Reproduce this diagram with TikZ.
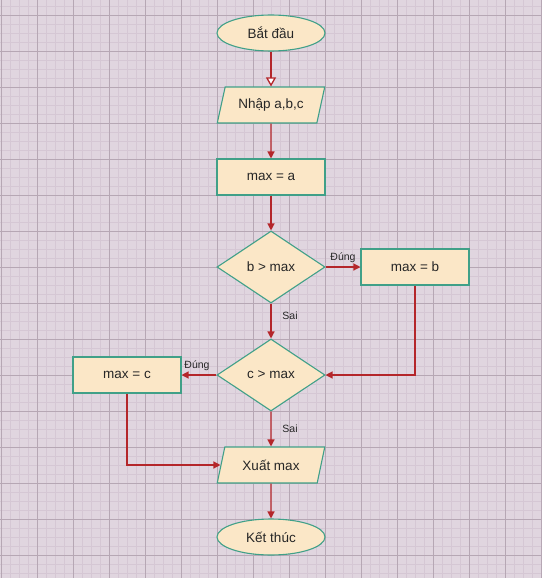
\documentclass[tikz,border=0pt]{standalone}
\usepackage{fontspec}
\setmainfont{Liberation Sans}
\usetikzlibrary{shapes.geometric,arrows.meta}
\definecolor{bgc}{RGB}{224,213,223}
\definecolor{minorc}{RGB}{213,199,212}
\definecolor{majorc}{RGB}{182,167,180}
\definecolor{fillc}{RGB}{251,231,199}
\definecolor{edgec}{RGB}{64,160,136}
\definecolor{arrc}{RGB}{180,38,42}
\tikzset{
  base/.style={draw=edgec, fill=fillc, line width=1.1pt, inner sep=0pt, font=\fontsize{13.5}{15}\selectfont, text=black!85},
  term/.style={base, ellipse, minimum width=108pt, minimum height=36pt},
  proc/.style={base, rectangle, minimum width=108pt, minimum height=36pt},
  io/.style={base, trapezium, trapezium left angle=66, trapezium right angle=114, trapezium stretches=true, minimum width=108pt, minimum height=36pt},
  dec/.style={base, diamond, aspect=1.5, minimum width=108pt, minimum height=72pt},
  conn/.style={draw=arrc, line width=1.3pt, -{Triangle[length=7pt,width=7pt]}},
  openconn/.style={draw=arrc, line width=1.3pt, -{Triangle[open,length=9pt,width=10pt,fill=white]}},
  lbl/.style={font=\fontsize{10.5}{12}\selectfont, text=black!85, inner sep=0pt}
}
\begin{document}
\begin{tikzpicture}[x=1pt,y=-1pt]
\useasboundingbox (0,0) rectangle (542,578);
\fill[bgc] (0,0) rectangle (542,578);
\foreach \i in {0,...,60} {
  \draw[minorc, line width=0.5pt] ({1+9*\i},0) -- ({1+9*\i},578);
}
\foreach \i in {0,...,64} {
  \draw[minorc, line width=0.5pt] (0,{6+9*\i}) -- (542,{6+9*\i});
}
\foreach \i in {0,...,15} {
  \draw[majorc, line width=0.7pt] ({1+36*\i},0) -- ({1+36*\i},578);
}
\foreach \i in {0,...,16} {
  \draw[majorc, line width=0.7pt] (0,{15+36*\i}) -- (542,{15+36*\i});
}

\node[term] (start) at (271,33) {Bắt đầu};
\node[io] (in) at (271,105) {Nhập a,b,c};
\node[proc] (ma) at (271,177) {max = a};
\node[dec] (d1) at (271,267) {b > max};
\node[proc] (mb) at (415,267) {max = b};
\node[dec] (d2) at (271,375) {c > max};
\node[proc] (mc) at (127,375) {max = c};
\node[io] (out) at (271,465) {Xuất max};
\node[term] (end) at (271,537) {Kết thúc};

\draw[openconn] (start) -- (in);
\draw[conn] (in) -- (ma);
\draw[conn] (ma) -- (d1);
\draw[conn] (d1.east) -- (mb.west);
\draw[conn] (d1.south) -- (d2.north);
\draw[conn] (mb.south) |- (d2.east);
\draw[conn] (d2.west) -- (mc.east);
\draw[conn] (d2.south) -- (out.north);
\draw[conn] (mc.south) |- (out.west);
\draw[conn] (out) -- (end);

\node[lbl] (l1) at (343,258) {Đúng};
\node[lbl] (l2) at (290,316) {Sai};
\node[lbl] (l3) at (197,366) {Đúng};
\node[lbl] (l4) at (290,429) {Sai};
\end{tikzpicture}
\end{document}
